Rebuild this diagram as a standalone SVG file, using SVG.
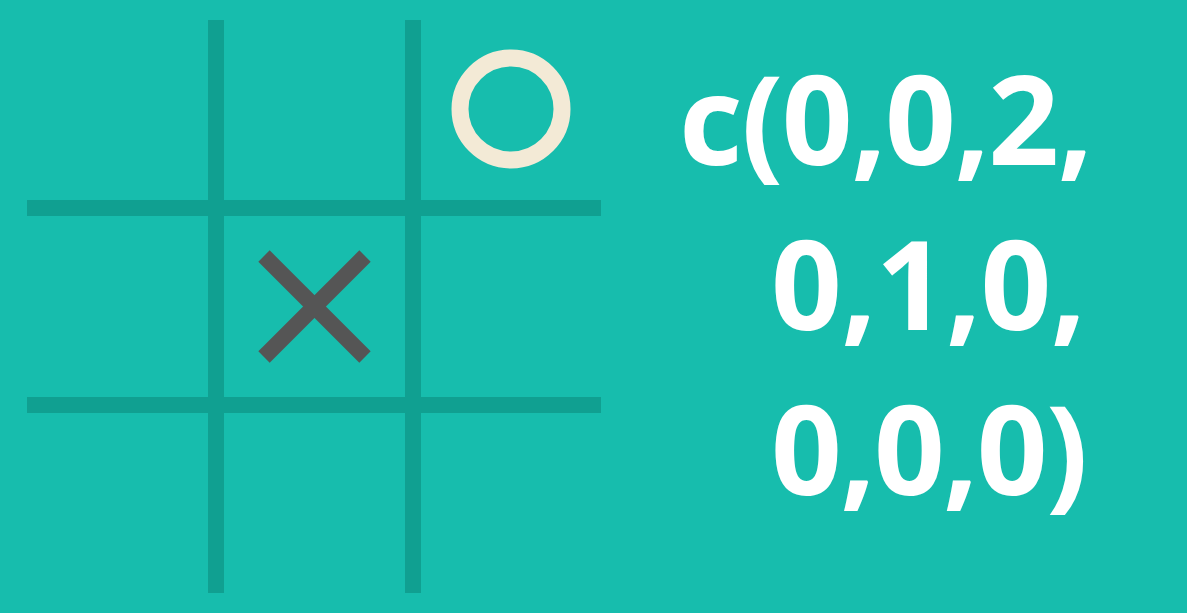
<svg xmlns="http://www.w3.org/2000/svg" width="1187" height="613" viewBox="0 0 1187 613">
<style>
.grid{fill:#10A091}
.txt{font-family:"Open Sans","Liberation Sans",sans-serif;font-weight:700;font-size:124px;fill:#FFFFFF}
</style>
<rect x="0" y="0" width="1187" height="613" fill="#17BDAD"/>
<g id="grid">
<rect class="grid" x="208" y="20" width="16" height="573"/>
<rect class="grid" x="405" y="20" width="16" height="573"/>
<rect class="grid" x="27" y="200" width="574" height="16"/>
<rect class="grid" x="27" y="397" width="574" height="16"/>
</g>
<g id="o-mark">
<circle cx="511" cy="109" r="51" fill="none" stroke="#F3EAD6" stroke-width="17"/>
</g>
<g id="x-mark" stroke="#555555" stroke-width="16" stroke-linecap="butt">
<line x1="264" y1="256" x2="365" y2="357"/>
<line x1="365" y1="256" x2="264" y2="357"/>
</g>
<g id="code-text">
<text class="txt" x="679" y="165" textLength="414" lengthAdjust="spacing">c(0,0,2,</text>
<text class="txt" x="771" y="330" textLength="315" lengthAdjust="spacing">0,1,0,</text>
<text class="txt" x="771" y="495" textLength="317" lengthAdjust="spacing">0,0,0)</text>
</g>
</svg>
